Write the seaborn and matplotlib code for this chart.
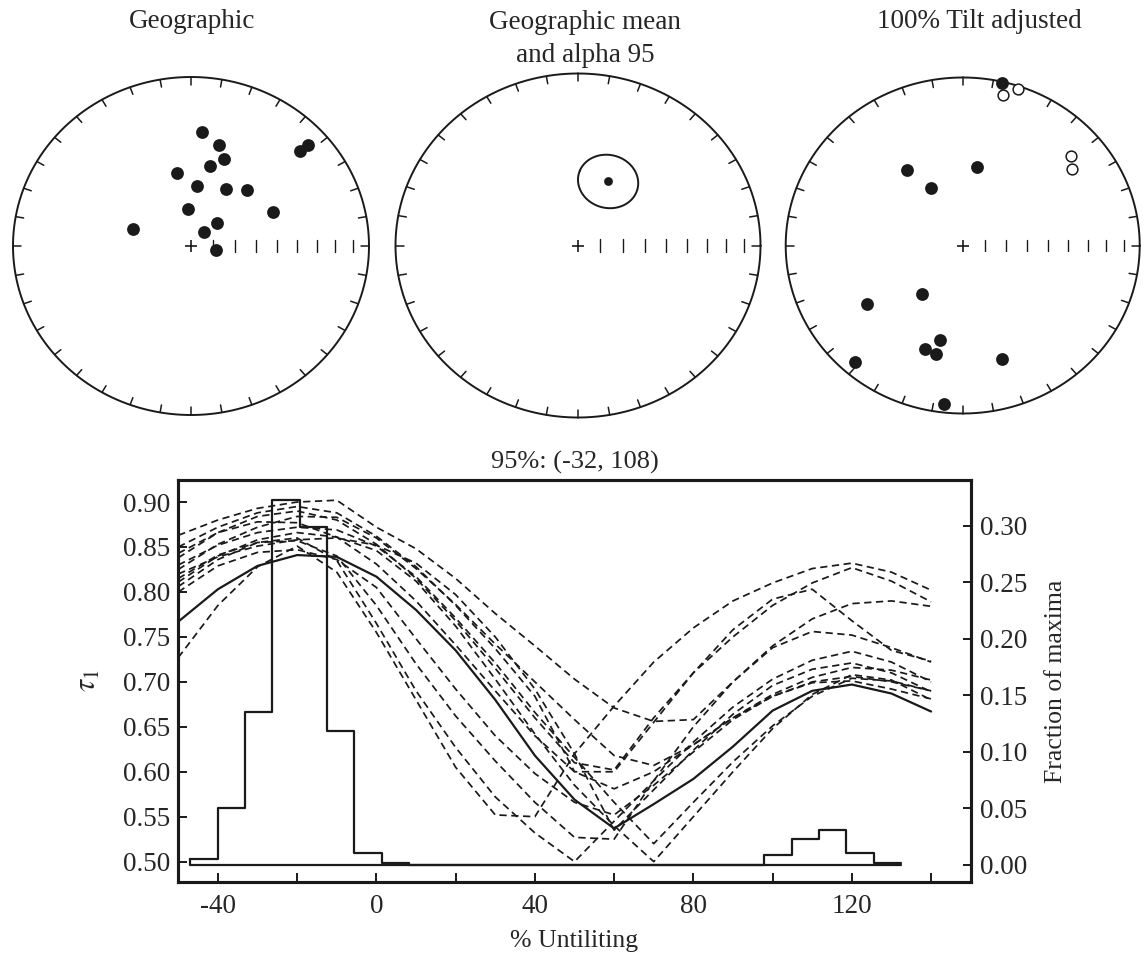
import numpy as np
import pandas as pd
import matplotlib
matplotlib.use("Agg")
import matplotlib.pyplot as plt
import seaborn as sns

# ---------------- stereonet data (declination, inclination in degrees) ----------------
geo_dec = [5.4, 14.8, 19.7, 12.8, 349.4, 5.1, 30.3, 43.5, 356.0, 46.4, 41.0, 66.2, 287.7, 98.5, 47.5, 47.9]
geo_inc = [32.9, 38.3, 44.4, 50.0, 54.0, 60.6, 58.2, 52.5, 72.0, 73.8, 81.0, 48.2, 62.2, 78.6, 18.1, 12.1]

mean_dec = 23.9
mean_inc = 56.3
mean_a95 = 13.0

# tilt-corrected directions; negative inclination = upper hemisphere (open symbols)
tilt_dec = [13.0, 324.9, 9.6, 332.4, 218.9, 237.4, 192.8, 199.1, 193.3, 221.2, 161.6, 186.4,
            14.4, 18.6, 48.8, 53.5]
tilt_inc = [0.9, 44.6, 50.9, 58.2, 59.7, 35.8, 41.6, 35.2, 34.1, 8.5, 29.7, 5.8,
            -8.6, -1.8, -19.8, -24.3]

# ---------------- fold test: tau_1 versus percent untilting ----------------
untilt = [-50, -40, -30, -20, -10, 0, 10, 20, 30, 40, 50, 60, 70, 80, 90, 100, 110, 120, 130, 140]

tau_data = [0.767, 0.803, 0.829, 0.841, 0.839, 0.817, 0.780, 0.735, 0.680, 0.618, 0.569, 0.537,
            0.564, 0.592, 0.628, 0.668, 0.690, 0.697, 0.687, 0.667]

boot_01 = [0.727, 0.785, 0.828, 0.851, 0.822, 0.755, 0.680, 0.605, 0.552, 0.550, 0.620, 0.673,
           0.722, 0.760, 0.790, 0.810, 0.826, 0.832, 0.822, 0.802]
boot_02 = [0.800, 0.829, 0.844, 0.847, 0.836, 0.805, 0.748, 0.692, 0.640, 0.598, 0.566, 0.552,
           0.585, 0.622, 0.658, 0.684, 0.700, 0.706, 0.700, 0.690]
boot_03 = [0.811, 0.840, 0.858, 0.866, 0.861, 0.846, 0.812, 0.762, 0.703, 0.642, 0.585, 0.540,
           0.500, 0.550, 0.600, 0.648, 0.686, 0.708, 0.702, 0.680]
boot_04 = [0.863, 0.880, 0.893, 0.900, 0.902, 0.872, 0.848, 0.815, 0.776, 0.740, 0.703, 0.671,
           0.656, 0.658, 0.700, 0.738, 0.756, 0.752, 0.738, 0.722]
boot_05 = [0.850, 0.872, 0.888, 0.895, 0.888, 0.862, 0.828, 0.785, 0.737, 0.684, 0.600, 0.600,
           0.655, 0.710, 0.758, 0.792, 0.803, 0.768, 0.735, 0.723]
boot_06 = [0.838, 0.866, 0.884, 0.890, 0.880, 0.853, 0.815, 0.768, 0.715, 0.660, 0.610, 0.602,
           0.660, 0.710, 0.750, 0.785, 0.810, 0.827, 0.812, 0.789]
boot_07 = [0.825, 0.853, 0.872, 0.884, 0.883, 0.860, 0.826, 0.786, 0.742, 0.700, 0.658, 0.618,
           0.607, 0.630, 0.660, 0.686, 0.705, 0.716, 0.713, 0.702]
boot_08 = [0.830, 0.852, 0.866, 0.872, 0.869, 0.851, 0.817, 0.771, 0.721, 0.666, 0.616, 0.566,
           0.520, 0.566, 0.611, 0.651, 0.684, 0.704, 0.701, 0.690]
boot_09 = [0.820, 0.839, 0.851, 0.858, 0.860, 0.852, 0.832, 0.797, 0.750, 0.692, 0.620, 0.535,
           0.580, 0.624, 0.664, 0.696, 0.714, 0.721, 0.710, 0.689]
boot_10 = [0.815, 0.841, 0.855, 0.857, 0.840, 0.785, 0.720, 0.662, 0.612, 0.566, 0.527, 0.525,
           0.590, 0.650, 0.700, 0.740, 0.770, 0.787, 0.790, 0.784]
boot_11 = [0.843, 0.866, 0.878, 0.877, 0.861, 0.831, 0.790, 0.741, 0.690, 0.640, 0.600, 0.581,
           0.600, 0.630, 0.660, 0.684, 0.699, 0.701, 0.692, 0.681]
boot_12 = [0.806, 0.836, 0.855, 0.860, 0.835, 0.765, 0.690, 0.627, 0.572, 0.532, 0.500, 0.545,
           0.590, 0.633, 0.672, 0.703, 0.724, 0.734, 0.722, 0.700]
boot_curves = [boot_01, boot_02, boot_03, boot_04, boot_05, boot_06,
               boot_07, boot_08, boot_09, boot_10, boot_11, boot_12]

# histogram of the untilting at which tau_1 peaks
hist_lo, hist_hi = -47.0, 132.4
frac_maxima = [0.005, 0.050, 0.1355, 0.323, 0.299, 0.118, 0.0106, 0.0015,
               0, 0, 0, 0, 0, 0, 0, 0, 0, 0, 0, 0, 0,
               0.008, 0.0225, 0.031, 0.010, 0.0015]

x_ticks = [-40, -20, 0, 20, 40, 60, 80, 100, 120, 140]
x_ticklabels = ["-40", "", "0", "", "40", "", "80", "", "120", ""]
tau_ticks = [0.50, 0.55, 0.60, 0.65, 0.70, 0.75, 0.80, 0.85, 0.90]
frac_ticks = [0.00, 0.05, 0.10, 0.15, 0.20, 0.25, 0.30]

# ---------------- style ----------------
sns.set_theme(style="white")
plt.rcParams["font.family"] = ["Liberation Serif", "DejaVu Serif"]
plt.rcParams["mathtext.fontset"] = "stix"
plt.rcParams["axes.unicode_minus"] = False

W, H = 1144, 963
fig = plt.figure(figsize=(W / 100, H / 100), dpi=100)
fig.patch.set_facecolor("white")


def eqarea(dec, inc):
    dec = np.radians(np.asarray(dec, dtype=float))
    inc = np.asarray(inc, dtype=float)
    r = np.sqrt(2.0) * np.sin(np.radians(90.0 - np.abs(inc)) / 2.0)
    return r * np.sin(dec), r * np.cos(dec)


def small_circle(dec, inc, radius, n=181):
    d, i, a = np.radians(dec), np.radians(inc), np.radians(radius)
    m = np.array([np.cos(i) * np.cos(d), np.cos(i) * np.sin(d), np.sin(i)])
    u = np.cross(m, [0.0, 0.0, 1.0])
    u /= np.linalg.norm(u)
    v = np.cross(m, u)
    phi = np.linspace(0, 2 * np.pi, n)
    pts = (np.cos(a) * m[:, None] + np.sin(a) * (np.outer(u, np.cos(phi)) + np.outer(v, np.sin(phi))))
    cdec = np.degrees(np.arctan2(pts[1], pts[0]))
    cinc = np.degrees(np.arcsin(np.clip(pts[2], -1, 1)))
    return eqarea(cdec, cinc)


def net_axes(cx, cy, rx, ry):
    pad = 1.12
    ax = fig.add_axes([(cx - pad * rx) / W, (H - cy - pad * ry) / H, 2 * pad * rx / W, 2 * pad * ry / H])
    ax.set_xlim(-pad, pad)
    ax.set_ylim(-pad, pad)
    ax.axis("off")
    t = np.linspace(0, 2 * np.pi, 400)
    ax.plot(np.cos(t), np.sin(t), color="k", lw=1.4)
    for az in range(0, 360, 10):
        a = np.radians(az)
        ax.plot([0.955 * np.sin(a), np.sin(a)], [0.955 * np.cos(a), np.cos(a)], color="k", lw=1.1)
    for inc in range(80, 0, -10):
        xs, _ = eqarea(90.0, inc)
        ax.plot([xs, xs], [-0.035, 0.035], color="k", lw=1.0)
    ax.plot([0], [0], marker="+", ms=9, mew=1.2, color="k")
    return ax


# Geographic directions
ax1 = net_axes(191, 246, 178, 169)
gx, gy = eqarea(geo_dec, geo_inc)
sns.scatterplot(x=gx, y=gy, ax=ax1, color="k", s=85, linewidth=0, legend=False, zorder=5)

# Mean with alpha 95 circle
ax2n = net_axes(578, 245.5, 182.5, 172)
ex, ey = small_circle(mean_dec, mean_inc, mean_a95)
ax2n.plot(ex, ey, color="k", lw=1.4)
mx, my = eqarea([mean_dec], [mean_inc])
sns.scatterplot(x=mx, y=my, ax=ax2n, color="k", s=40, linewidth=0, legend=False, zorder=5)

# Tilt-adjusted directions
ax3 = net_axes(962.7, 245.5, 177, 168)
tdec = np.array(tilt_dec)
tinc = np.array(tilt_inc)
down = tinc >= 0
tx, ty = eqarea(tdec[down], tinc[down])
sns.scatterplot(x=tx, y=ty, ax=ax3, color="k", s=85, linewidth=0, legend=False, zorder=5)
ux, uy = eqarea(tdec[~down], tinc[~down])
sns.scatterplot(x=ux, y=uy, ax=ax3, color="white", edgecolor="k", s=60, linewidth=1.1,
                legend=False, zorder=5)

fs = 19.5
fig.text(191.7 / W, 1 - 22 / H, "Geographic", ha="center", va="center", fontsize=fs)
fig.text(585 / W, 1 - 39 / H, "Geographic mean\nand alpha 95", ha="center", va="center",
         fontsize=fs, linespacing=1.38)
fig.text(979.7 / W, 1 - 22 / H, "100% Tilt adjusted", ha="center", va="center", fontsize=fs)

# ---------------- fold test panel ----------------
ax = fig.add_axes([178.3 / W, (H - 881.7) / H, 792.4 / W, 401.7 / H])
df_boot = pd.DataFrame({
    "untilt": np.tile(untilt, len(boot_curves)),
    "tau": np.concatenate(boot_curves),
    "sample": np.repeat(np.arange(len(boot_curves)), len(untilt)),
})
sns.lineplot(data=df_boot, x="untilt", y="tau", units="sample", estimator=None, color="k",
             linewidth=1.25, linestyle=(0, (4.2, 2.6)), legend=False, ax=ax)
sns.lineplot(x=untilt, y=tau_data, color="k", linewidth=1.6, ax=ax)

axr = ax.twinx()
edges = np.linspace(hist_lo, hist_hi, len(frac_maxima) + 1)
df_hist = pd.DataFrame({
    "center": 0.5 * (edges[:-1] + edges[1:]),
    "frac": frac_maxima,
})
sns.histplot(data=df_hist, x="center", weights="frac", bins=list(edges), element="step",
             fill=False, color="k", linewidth=1.6, ax=axr)
# zero line closing the histogram outline underneath the bars
axr.plot([edges[0], edges[0], edges[-1]], [frac_maxima[0], 0, 0], color="k", lw=1.6)

ax.set_xlim(-50, 150)
ax.set_ylim(0.4777, 0.9245)
axr.set_ylim(-0.0152, 0.3405)

ax.set_xticks(x_ticks)
ax.set_xticklabels(x_ticklabels)
ax.set_yticks(tau_ticks)
ax.set_yticklabels([f"{v:.2f}" for v in tau_ticks])
axr.set_yticks(frac_ticks)
axr.set_yticklabels([f"{v:.2f}" for v in frac_ticks])

ax.tick_params(axis="x", direction="in", length=6.5, width=1.4, top=False, bottom=True,
               labelsize=fs, pad=9, color="k")
ax.tick_params(axis="y", direction="in", length=6.5, width=1.4, left=True, right=False,
               labelsize=fs, pad=6, color="k")
axr.tick_params(axis="y", direction="in", length=5.5, width=1.4, left=False, right=True,
                labelsize=fs, pad=6.5, color="k")
for a in (ax, axr):
    for s in a.spines.values():
        s.set_linewidth(2.2)
        s.set_color("k")

ax.set_xlabel("% Untiliting", fontsize=18.5, labelpad=8)
ax.set_ylabel(r"$\tau_1$", fontsize=22, labelpad=14)
axr.set_ylabel("Fraction of maxima", fontsize=18.5, labelpad=13)
ax.set_title("95%: (-32, 108)", fontsize=19, pad=8)

fig.savefig("out.png", dpi=100, facecolor="white")
